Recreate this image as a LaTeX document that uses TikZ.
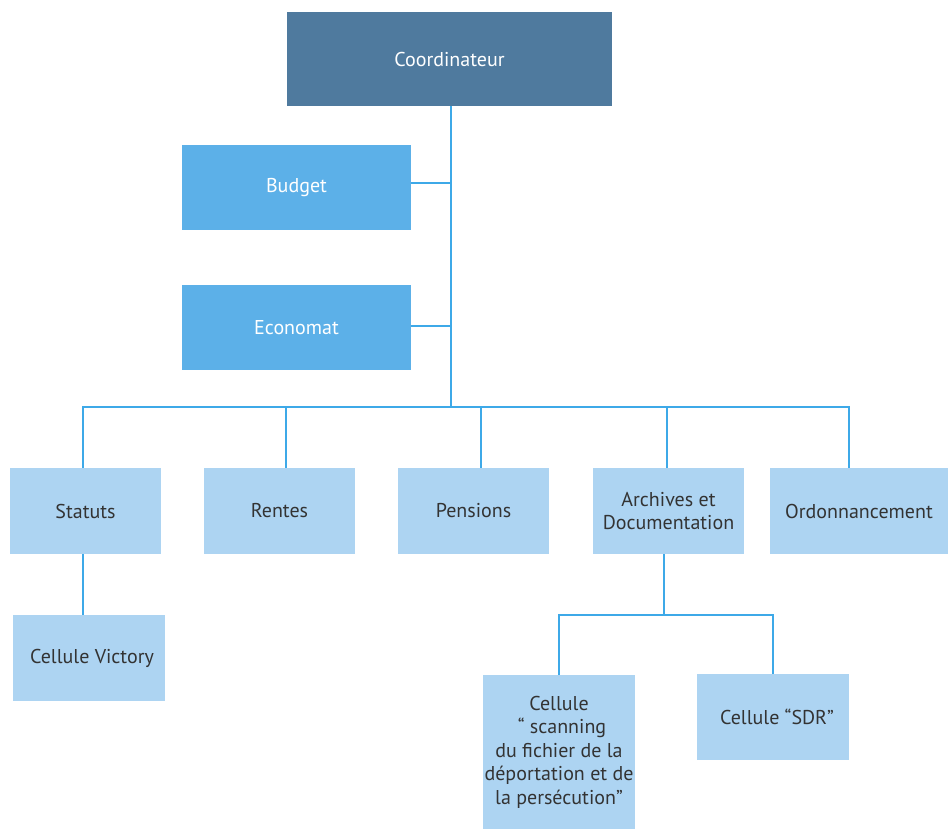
\documentclass[tikz,border=0pt]{standalone}
\usepackage{fontspec}
\setmainfont{PT Sans}
\definecolor{darkbox}{HTML}{4F7A9E}
\definecolor{midbox}{HTML}{5CB0E8}
\definecolor{lightbox}{HTML}{ADD4F2}
\definecolor{linec}{HTML}{3DA9E8}
\definecolor{txt}{HTML}{333333}
\begin{document}
\begin{tikzpicture}[x=1pt,y=-1pt,
  box/.style={rectangle, inner sep=0pt, align=center, font=\fontsize{20}{23.5}\selectfont},
  topbox/.style={box, fill=darkbox, text=white},
  staffbox/.style={box, fill=midbox, text=white},
  unitbox/.style={box, fill=lightbox, text=txt},
  conn/.style={draw=linec, line width=1.6pt}]
\useasboundingbox (0,0) rectangle (948,830);
\node[topbox, minimum width=325pt, minimum height=94pt] (coord) at (449.5,59) {Coordinateur};
\node[staffbox, minimum width=229pt, minimum height=85pt] (budget) at (296.5,187.5) {Budget};
\node[staffbox, minimum width=229pt, minimum height=85pt] (econ) at (296.5,327.5) {Economat};
\node[unitbox, minimum width=151pt, minimum height=86pt] (statuts) at (85.5,511) {Statuts};
\node[unitbox, minimum width=151pt, minimum height=86pt] (rentes) at (279.5,511) {Rentes};
\node[unitbox, minimum width=151pt, minimum height=86pt] (pensions) at (473.5,511) {Pensions};
\node[unitbox, minimum width=151pt, minimum height=86pt] (arch) at (668.5,511) {Archives et\\Documentation};
\node[unitbox, minimum width=178pt, minimum height=86pt] (ordo) at (859,511) {Ordonnancement};
\node[unitbox, minimum width=152pt, minimum height=86pt] (victory) at (89,658) {\hspace{6pt}Cellule Victory};
\node[unitbox, minimum width=152pt, minimum height=154pt] (scan) at (559,752) {Cellule\\\hspace{6pt}“ scanning\\du fichier de la\\déportation et de\\la persécution”};
\node[unitbox, minimum width=152pt, minimum height=86pt] (sdr) at (773,717) {\hspace{8pt}Cellule “SDR”};
\coordinate (bus) at (451,407);
\coordinate (split) at (664,615);
\draw[conn] (coord.south -| bus) -- (bus);
\draw[conn] ([yshift=4.5pt]budget.east) -- ([yshift=4.5pt]budget.east -| bus);
\draw[conn] ([yshift=1.5pt]econ.east) -- ([yshift=1.5pt]econ.east -| bus);
\draw[conn] ([xshift=-2.5pt]statuts.north) |- ([xshift=-10pt]ordo.north |- bus) -- ([xshift=-10pt]ordo.north);
\draw[conn] ([xshift=6.5pt]rentes.north) -- ([xshift=6.5pt]rentes.north |- bus);
\draw[conn] ([xshift=7.5pt]pensions.north) -- ([xshift=7.5pt]pensions.north |- bus);
\draw[conn] ([xshift=-1.5pt]arch.north) -- ([xshift=-1.5pt]arch.north |- bus);
\draw[conn] ([xshift=-2.5pt]statuts.south) -- ([xshift=-2.5pt]statuts.south |- victory.north);
\draw[conn] (arch.south -| split) -- (split);
\draw[conn] (scan.north) |- (split) -| (sdr.north);
\end{tikzpicture}
\end{document}
